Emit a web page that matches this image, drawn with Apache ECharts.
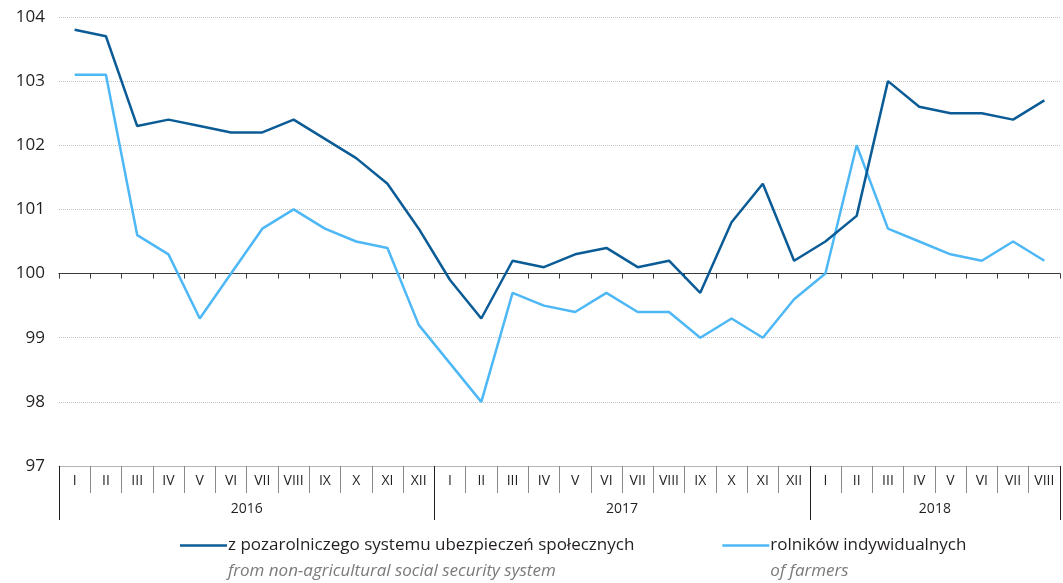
<!DOCTYPE html>
<html>
<head>
<meta charset="utf-8">
<script src="https://cdn.jsdelivr.net/npm/echarts@6/dist/echarts.min.js"></script>
<style>
  html, body { margin: 0; padding: 0; background: #fff; }
  #chart { width: 1063px; height: 583px; }
</style>
</head>
<body>
<div id="chart"></div>
<script>
var years = ['2016', '2017', '2018'];
var monthsPerYear = [12, 12, 8];
var monthNames = ['I','II','III','IV','V','VI','VII','VIII','IX','X','XI','XII'];

var nonAgri = [103.8,103.7,102.3,102.4,102.3,102.2,102.2,102.4,102.1,101.8,101.4,100.7,
               99.9,99.3,100.2,100.1,100.3,100.4,100.1,100.2,99.7,100.8,101.4,100.2,
               100.5,100.9,103.0,102.6,102.5,102.5,102.4,102.7];
var farmers = [103.1,103.1,100.6,100.3,99.3,100.0,100.7,101.0,100.7,100.5,100.4,99.2,
               98.6,98.0,99.7,99.5,99.4,99.7,99.4,99.4,99.0,99.3,99.0,99.6,
               100.0,102.0,100.7,100.5,100.3,100.2,100.5,100.2];

var seriesNames = ['z pozarolniczego systemu ubezpieczeń społecznych', 'rolników indywidualnych'];
var seriesNamesEn = ['from non-agricultural social security system', 'of farmers'];

// build category list + where each year starts / is labelled
var categories = [];
var yearStart = {};
var yearLabelAt = {};
years.forEach(function(y, k){
  yearStart[categories.length] = true;
  yearLabelAt[categories.length + monthsPerYear[k] / 2 - 1] = y;
  for (var m = 0; m < monthsPerYear[k]; m++) categories.push(monthNames[m]);
});

var FONT = 'Open Sans';
var chart = echarts.init(document.getElementById('chart'));

var gridTop = 17, gridBottom = 117;
var plotH = 583 - gridTop - gridBottom;
var yMin = 97, yMax = 104;
var bandW = (1063 - 59 - 3) / categories.length;

var option = {
  animation: false,
  grid: { left: 59, right: 3, top: gridTop, bottom: gridBottom, containLabel: false },
  legend: {
    left: 175,
    top: 506,
    icon: 'rect',
    itemWidth: 47,
    itemHeight: 2.5,
    itemGap: 88,
    data: seriesNames,
    formatter: function(name){
      var i = seriesNames.indexOf(name);
      return '{e| }\n{a|' + name + '}\n{b|' + seriesNamesEn[i] + '}';
    },
    textStyle: {
      padding: [0, 0, 0, -4],
      rich: {
        e: { fontSize: 17, lineHeight: 26 },
        a: { fontFamily: FONT, fontSize: 17, color: '#231f20', lineHeight: 26 },
        b: { fontFamily: FONT, fontSize: 17, color: '#7a7a7a', fontStyle: 'italic', lineHeight: 26 }
      }
    }
  },
  xAxis: [
    { // months row along the 97 line
      type: 'category',
      data: categories,
      boundaryGap: true,
      position: 'bottom',
      axisLine: { lineStyle: { color: '#b5b5b5', width: 1 } },
      axisTick: { show: true, interval: 0, length: 27, lineStyle: { color: '#8a8a8a', width: 1 } },
      axisLabel: { interval: 0, margin: 8, fontFamily: FONT, fontSize: 14, color: '#231f20' },
      splitLine: { show: false }
    },
    { // years row
      type: 'category',
      data: categories,
      boundaryGap: true,
      position: 'bottom',
      axisLine: { show: false },
      axisTick: {
        show: true, length: 54,
        interval: function(idx){ return !!yearStart[idx]; },
        lineStyle: { color: '#231f20', width: 1 }
      },
      axisLabel: {
        margin: 36,
        interval: function(idx){ return yearLabelAt[idx] !== undefined; },
        formatter: function(v, idx){ return yearLabelAt[idx] || ''; },
        padding: [0, 0, 0, bandW],
        fontFamily: FONT, fontSize: 14, color: '#231f20'
      }
    },
    { // axis line with ticks crossing at 100
      type: 'category',
      data: categories,
      boundaryGap: true,
      position: 'bottom',
      offset: -plotH * (100 - yMin) / (yMax - yMin),
      axisLine: { lineStyle: { color: '#3a3a3a', width: 1.2 } },
      axisTick: { show: true, interval: 0, length: 5, lineStyle: { color: '#3a3a3a' } },
      axisLabel: { show: false }
    }
  ],
  yAxis: {
    type: 'value',
    min: yMin,
    max: yMax,
    interval: 1,
    axisLine: { show: false },
    axisTick: { show: false },
    axisLabel: { margin: 14, fontFamily: FONT, fontSize: 17, color: '#231f20' },
    splitLine: { lineStyle: { color: '#c4c4c4', type: 'dotted', width: 1 } }
  },
  series: [
    {
      name: seriesNames[0],
      type: 'line',
      data: nonAgri,
      symbol: 'none',
      lineStyle: { color: '#0b5c96', width: 2.5 },
      itemStyle: { color: '#0b5c96' },
      z: 3
    },
    {
      name: seriesNames[1],
      type: 'line',
      data: farmers,
      symbol: 'none',
      lineStyle: { color: '#4db8f5', width: 2.5 },
      itemStyle: { color: '#4db8f5' },
      z: 2
    }
  ]
};
chart.setOption(option);
</script>
</body>
</html>
